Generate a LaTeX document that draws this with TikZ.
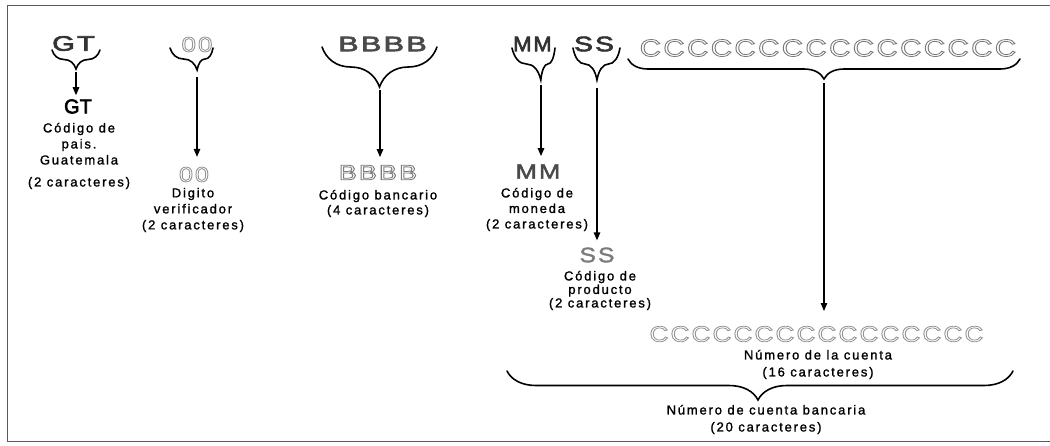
\documentclass[tikz,border=0pt]{standalone}
\usepackage{fontspec}
\usepackage{graphicx}
\usetikzlibrary{decorations.pathreplacing,arrows.meta}
\newfontfamily\lblfont[LetterSpace=14]{Liberation Sans}
\newfontfamily\bigfont[LetterSpace=8]{Liberation Sans}
\newfontfamily\plainfont{Liberation Sans}
\newcommand\hollowtxt[1]{\special{pdf:literal direct 1 Tr 0.8 w}#1\special{pdf:literal direct 0 Tr 1 w}}
\newcommand\strk[2]{\special{pdf:literal direct 2 Tr #1 w}#2\special{pdf:literal direct 0 Tr 1 w}}
\newcommand\sx[2]{\scalebox{#1}[1]{#2}}
\definecolor{dk}{HTML}{333333}
\definecolor{dkb}{HTML}{4A4A4A}
\definecolor{midg}{HTML}{7A7A7A}
\definecolor{ltg}{HTML}{959595}
\definecolor{framec}{HTML}{5A5A5A}
\tikzset{
  desc/.style={font=\lblfont\fontsize{13}{#1}\selectfont, align=center, inner sep=0pt,
    execute at begin node={\special{pdf:literal direct 2 Tr 0.18 w}},
    execute at end node={\special{pdf:literal direct 0 Tr 1 w}}},
  desc/.default=16,
  bigtxt/.style={font=\bigfont\fontsize{21}{21}\selectfont, inner sep=0pt},
  brc/.style={decorate, line width=1.6pt, line cap=round},
  arr/.style={-{Triangle[length=8pt,width=6.5pt]}, line width=1.3pt},
}
\begin{document}
\begin{tikzpicture}[x=1pt,y=1pt]
\useasboundingbox (0,0) rectangle (1050,-445);
% frame
\draw[framec, line width=1.5pt] (1050,-5.5) -- (7.5,-5.5) -- (7.5,-441.5) -- (1050,-441.5);

% top row
\node[bigtxt, text=dk]  (tGT) at (73.5,-43.5) {\sx{1.38}{\strk{0.6}{GT}}};
\node[bigtxt, text=ltg] (t00) at (197,-44.5) {\sx{1.23}{\hollowtxt{00}}};
\node[bigtxt, text=dkb] (tB)  at (382.5,-44) {\sx{1.45}{\strk{0.6}{BBBB}}};
\node[bigtxt, text=dk]  (tM)  at (532.5,-44) {\sx{1.05}{\strk{0.6}{MM}}};
\node[bigtxt, text=dk]  (tS)  at (594,-44) {\sx{1.34}{\strk{0.6}{SS}}};
\node[bigtxt, font=\bigfont\fontsize{24}{24}\selectfont, text=midg] (tC) at (828,-48) {\sx{1.23}{\hollowtxt{CCCCCCCCCCCCCCCC}}};

% brace coordinates
\coordinate (bGT1) at (52,-50);  \coordinate (bGT2) at (100,-50); \coordinate (cGT) at (76,-70);
\coordinate (b001) at (170,-48); \coordinate (b002) at (213,-48); \coordinate (c00) at (197,-70);
\coordinate (bB1) at (322,-47);  \coordinate (bB2) at (437,-47);  \coordinate (cB) at (380,-87);
\coordinate (bM1) at (512,-48);  \coordinate (bM2) at (555,-48);  \coordinate (cM) at (541,-80);
\coordinate (bS1) at (573,-48);  \coordinate (bS2) at (620,-48);  \coordinate (cS) at (597,-80);
\coordinate (bC1) at (628,-59);  \coordinate (bC2) at (1020,-59); \coordinate (cC) at (824,-79);
\coordinate (bA1) at (507,-371); \coordinate (bA2) at (1013,-371);

% braces
\draw[brc, decoration={brace, mirror, amplitude=19pt}] (bGT1) -- (bGT2);
\draw[brc, decoration={brace, mirror, amplitude=22pt, aspect=0.63}] (b001) -- (b002);
\draw[brc, decoration={brace, mirror, amplitude=40pt}] (bB1) -- (bB2);
\draw[brc, decoration={brace, mirror, amplitude=32pt, aspect=0.67}] (bM1) -- (bM2);
\draw[brc, decoration={brace, mirror, amplitude=32pt, aspect=0.51}] (bS1) -- (bS2);
\draw[brc, decoration={brace, mirror, amplitude=20pt}] (bC1) -- (bC2);
\draw[brc, decoration={brace, mirror, amplitude=29pt, aspect=0.496}] (bA1) -- (bA2);

% labels
\node[inner sep=0pt, font=\plainfont\fontsize{20}{20}\selectfont, text=black] (lGT) at (78,-106.5) {\strk{0.6}{GT}};
\node[bigtxt, text=ltg]  (l00) at (194,-174.5) {\sx{1.19}{\hollowtxt{00}}};
\node[bigtxt, text=midg] (lB)  at (378,-172.5) {\sx{1.28}{\hollowtxt{BBBB}}};
\node[bigtxt, text=dkb]  (lM)  at (538,-171.5) {\sx{1.22}{\strk{0.4}{MM}}};
\node[bigtxt, text=midg] (lS)  at (597,-255) {\sx{1.18}{\strk{0.3}{SS}}};
\node[bigtxt, font=\bigfont\fontsize{22}{22}\selectfont, text=ltg] (lC) at (816.5,-334) {\sx{1.19}{\hollowtxt{CCCCCCCCCCCCCCCC}}};

% descriptions
\node[desc=16] (dGT) at (79,-156) {Código de\\pais.\\Guatemala\\[6pt](2 caracteres)};
\node[desc=16] (d00) at (193,-210) {Digito\\verificador\\(2 caracteres)};
\node[desc=15] (dB) at (378,-203.5) {Código bancario\\(4 caracteres)};
\node[desc=15.5] (dM) at (537,-209.5) {Código de\\moneda\\(2 caracteres)};
\node[desc=13.5] (dS) at (600,-290.5) {Código de\\producto\\(2 caracteres)};
\node[desc=17] (dC) at (818,-364.5) {Número de la cuenta\\(16 caracteres)};
\node[desc=17] (dA) at (766,-419.5) {Número de cuenta bancaria\\(20 caracteres)};

% arrows
\draw[arr, shorten <=2pt, shorten >=4pt] (cGT) -- (cGT |- lGT.north);
\draw[arr, shorten <=7pt, shorten >=10pt] (c00) -- (c00 |- l00.north);
\draw[arr, shorten <=3pt, shorten >=8pt] (cB) -- (cB |- lB.north);
\draw[arr, shorten <=5pt, shorten >=8pt] (cM) -- (cM |- lM.north);
\draw[arr, shorten <=8pt, shorten >=7pt] (cS) -- (cS |- lS.north);
\draw[arr, shorten <=4pt, shorten >=15pt] (cC) -- (cC |- lC.north);
\end{tikzpicture}
\end{document}
